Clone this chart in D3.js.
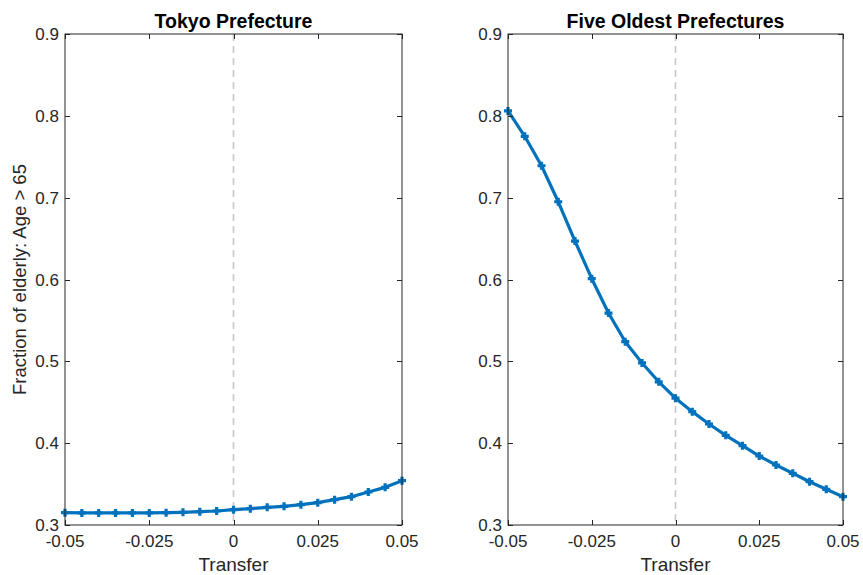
<!DOCTYPE html>
<html>
<head>
<meta charset="utf-8">
<script src="https://cdn.jsdelivr.net/npm/d3@7"></script>
<style>
  body { margin: 0; background: #fff; }
  text { font-family: "Liberation Sans", Arial, sans-serif; fill: #262626; }
</style>
</head>
<body>
<div id="chart"></div>
<script>
// Transfer values (x) shared by both panels
const transfer = [-0.05, -0.045, -0.04, -0.035, -0.03, -0.025, -0.02, -0.015, -0.01, -0.005,
                  0, 0.005, 0.01, 0.015, 0.02, 0.025, 0.03, 0.035, 0.04, 0.045, 0.05];
// Fraction of elderly, Tokyo
const tokyo = [0.3151, 0.3147, 0.3147, 0.3147, 0.3147, 0.3147, 0.3151, 0.3155, 0.3163, 0.3171,
               0.3187, 0.3200, 0.3216, 0.3228, 0.3248, 0.3273, 0.3310, 0.3346, 0.3403, 0.3460, 0.3542];
// Fraction of elderly, five oldest prefectures
const oldest = [0.806, 0.775, 0.739, 0.695, 0.647, 0.601, 0.559, 0.524, 0.498, 0.475,
                0.455, 0.4385, 0.4234, 0.4096, 0.3969, 0.3843, 0.3733, 0.3632, 0.3529, 0.3436, 0.3346];
const titles = ['Tokyo Prefecture', 'Five Oldest Prefectures'];
const xTicks = [-0.05, -0.025, 0, 0.025, 0.05];
const xTickLabels = ['-0.05', '-0.025', '0', '0.025', '0.05'];
const yTicks = [0.3, 0.4, 0.5, 0.6, 0.7, 0.8, 0.9];

const width = 863, height = 575;
const panels = [
    { left: 65, right: 402, values: tokyo, title: titles[0] },
    { left: 508, right: 843, values: oldest, title: titles[1] }
];
const plotTop = 34, plotBottom = 525;
const tickLen = 5;

let svg = d3.select('#chart')
            .append('svg')
            .attr('width', width)
            .attr('height', height);

panels.forEach((p, k) => {
    const x = d3.scaleLinear().domain([-0.05, 0.05]).range([p.left, p.right]);
    const y = d3.scaleLinear().domain([0.3, 0.9]).range([plotBottom, plotTop]);
    let g = svg.append('g');

    // dashed zero line
    g.append('line')
     .attr('x1', x(0)).attr('x2', x(0))
     .attr('y1', plotTop).attr('y2', plotBottom)
     .attr('stroke', '#c8c8c8')
     .attr('stroke-width', 1.6)
     .attr('stroke-dasharray', '7,5');

    // the curve
    const line = d3.line().x((d, i) => x(transfer[i])).y(d => y(d));
    g.append('path')
     .attr('d', line(p.values))
     .attr('fill', 'none')
     .attr('stroke', '#0072BD')
     .attr('stroke-width', 3.2)
     .attr('stroke-linejoin', 'round');

    // "+" markers
    g.selectAll('.mk')
     .data(p.values)
     .enter()
     .append('path')
     .attr('class', 'mk')
     .attr('d', (d, i) => {
         const cx = x(transfer[i]), cy = y(d), s = 4;
         return `M${cx - s},${cy}H${cx + s}M${cx},${cy - s}V${cy + s}`;
     })
     .attr('stroke', '#0072BD')
     .attr('stroke-width', 3.2);

    // box
    g.append('rect')
     .attr('x', p.left).attr('y', plotTop)
     .attr('width', p.right - p.left).attr('height', plotBottom - plotTop)
     .attr('fill', 'none')
     .attr('stroke', '#262626')
     .attr('stroke-width', 1);

    // x ticks (inward, bottom and top)
    xTicks.forEach((t, i) => {
        const px = Math.round(x(t)) + 0.5;
        g.append('line').attr('x1', px).attr('x2', px)
         .attr('y1', plotBottom).attr('y2', plotBottom - tickLen)
         .attr('stroke', '#262626');
        g.append('line').attr('x1', px).attr('x2', px)
         .attr('y1', plotTop).attr('y2', plotTop + tickLen)
         .attr('stroke', '#262626');
        g.append('text')
         .attr('x', x(t)).attr('y', plotBottom + 22)
         .attr('text-anchor', 'middle')
         .attr('font-size', 17)
         .text(xTickLabels[i]);
    });

    // y ticks (inward, left and right)
    yTicks.forEach(t => {
        const py = Math.round(y(t)) + 0.5;
        g.append('line').attr('x1', p.left).attr('x2', p.left + tickLen)
         .attr('y1', py).attr('y2', py)
         .attr('stroke', '#262626');
        g.append('line').attr('x1', p.right).attr('x2', p.right - tickLen)
         .attr('y1', py).attr('y2', py)
         .attr('stroke', '#262626');
        g.append('text')
         .attr('x', p.left - 6).attr('y', y(t) + 6)
         .attr('text-anchor', 'end')
         .attr('font-size', 17)
         .text(d3.format('.1f')(t));
    });

    // title
    g.append('text')
     .attr('x', (p.left + p.right) / 2).attr('y', 27.5)
     .attr('text-anchor', 'middle')
     .attr('font-size', 19.5)
     .attr('font-weight', 'bold')
     .style('fill', '#000')
     .text(p.title);

    // x label
    g.append('text')
     .attr('x', (p.left + p.right) / 2).attr('y', 571)
     .attr('text-anchor', 'middle')
     .attr('font-size', 19)
     .text('Transfer');
});

// y label (left panel only)
svg.append('text')
   .attr('transform', `translate(26,${(plotTop + plotBottom) / 2}) rotate(-90)`)
   .attr('text-anchor', 'middle')
   .attr('font-size', 18.5)
   .text('Fraction of elderly: Age > 65');
</script>
</body>
</html>
